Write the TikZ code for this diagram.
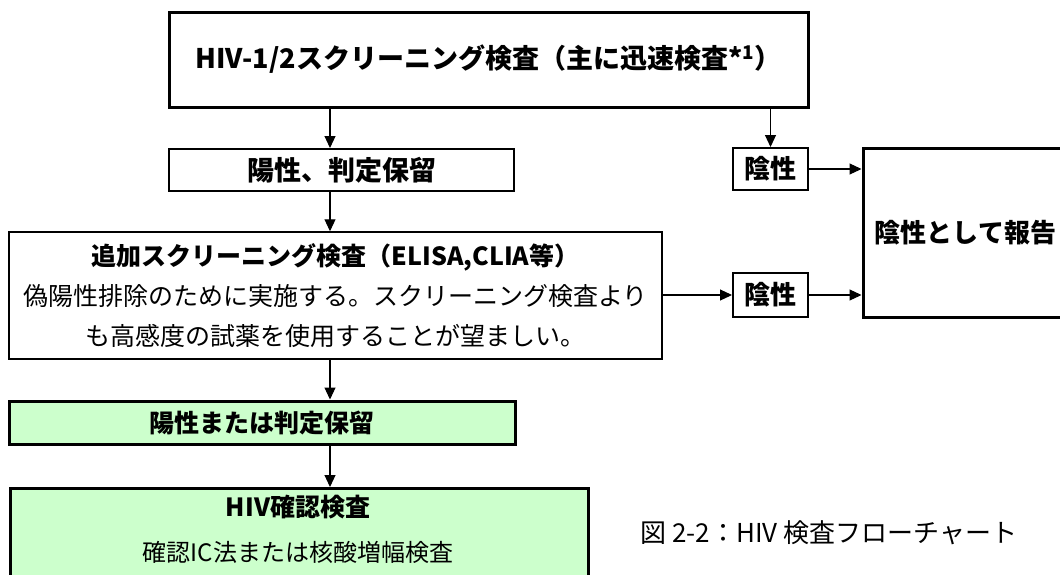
\documentclass[tikz,border=0pt]{standalone}
\usepackage{fontspec}
\newfontfamily\jp{Noto Sans CJK JP}
\usetikzlibrary{arrows.meta,calc}
\definecolor{lg}{RGB}{204,255,204}
\newcommand\jfs[2]{\fontsize{#1pt}{#2pt}\selectfont}
\tikzset{
  box/.style={draw=black, rectangle, inner sep=0pt, align=center},
  bthick/.style={box, line width=3pt},
  bmid/.style={box, line width=2pt},
  bthin/.style={box, line width=1.5pt},
  gfill/.style={fill=lg},
  arr/.style={-{Triangle[length=12pt,width=11pt]}, line width=1.1pt},
}
\begin{document}
\begin{tikzpicture}[x=1pt,y=-1pt]
\useasboundingbox (0,0) rectangle (1060,574);
\clip (0,0) rectangle (1060,574);
\fill[white] (0,0) rectangle (1060,574);
\coordinate (cx) at (330,0);

\node[bthick, minimum width=639pt, minimum height=95pt, font=\jp\bfseries\jfs{27}{30}] (top) at (488.5,59.5)
  {HIV-1/2スクリーニング検査（主に迅速検査*\textsuperscript{1}）};

\node[bmid, minimum width=345pt, minimum height=42pt, font=\jp\bfseries\jfs{27}{30}] (pos1) at (341.5,170)
  {陽性、判定保留};

\node[bthin, minimum width=653pt, minimum height=127pt, font=\jp\jfs{25}{40}] (add) at (335.5,295.5)
  {{\bfseries 追加スクリーニング検査（ELISA,CLIA等）}\\偽陽性排除のために実施する。スクリーニング検査より\\も高感度の試薬を使用することが望ましい。};

\node[bthick, gfill, minimum width=506pt, minimum height=43pt, font=\jp\bfseries\jfs{25}{30}] (pos2) at (262,422.5)
  {陽性または判定保留};

\node[bthick, gfill, minimum width=578pt, minimum height=120pt, anchor=north west] (conf) at (9,487) {};
\node[font=\jp\bfseries\jfs{25}{30}, inner sep=0pt] (conft) at (298,507) {HIV確認検査};
\node[font=\jp\jfs{24}{30}, inner sep=0pt] (confs) at (298,552) {確認IC法または核酸増幅検査};

\node[bmid, minimum width=75pt, minimum height=42pt, font=\jp\bfseries\jfs{26}{30}] (neg1) at (770.5,169) {陰性};
\node[bmid, minimum width=75pt, minimum height=44pt, font=\jp\bfseries\jfs{26}{30}] (neg2) at (770.5,295) {陰性};

\node[bthick, minimum width=205pt, minimum height=169pt, font=\jp\bfseries\jfs{26}{30}] (report) at (965.5,232.5)
  {陰性として報告};

\node[font=\jp\jfs{26}{30}, inner sep=0pt] (cap) at (829,533) {図 2-2：HIV 検査フローチャート};

\draw[arr] (top.south -| cx) -- (pos1.north -| cx);
\draw[arr] (pos1.south -| cx) -- (add.north -| cx);
\draw[arr] (add.south -| cx) -- (pos2.north -| cx);
\draw[arr] (pos2.south -| cx) -- (conf.north -| cx);
\draw[arr] (top.south -| neg1.north) -- (neg1.north);
\draw[arr] (neg1.east) -- (neg1.east -| report.west);
\draw[arr] (neg2.west -| add.east) -- (neg2.west);
\draw[arr] (neg2.east) -- (neg2.east -| report.west);
\end{tikzpicture}
\end{document}
